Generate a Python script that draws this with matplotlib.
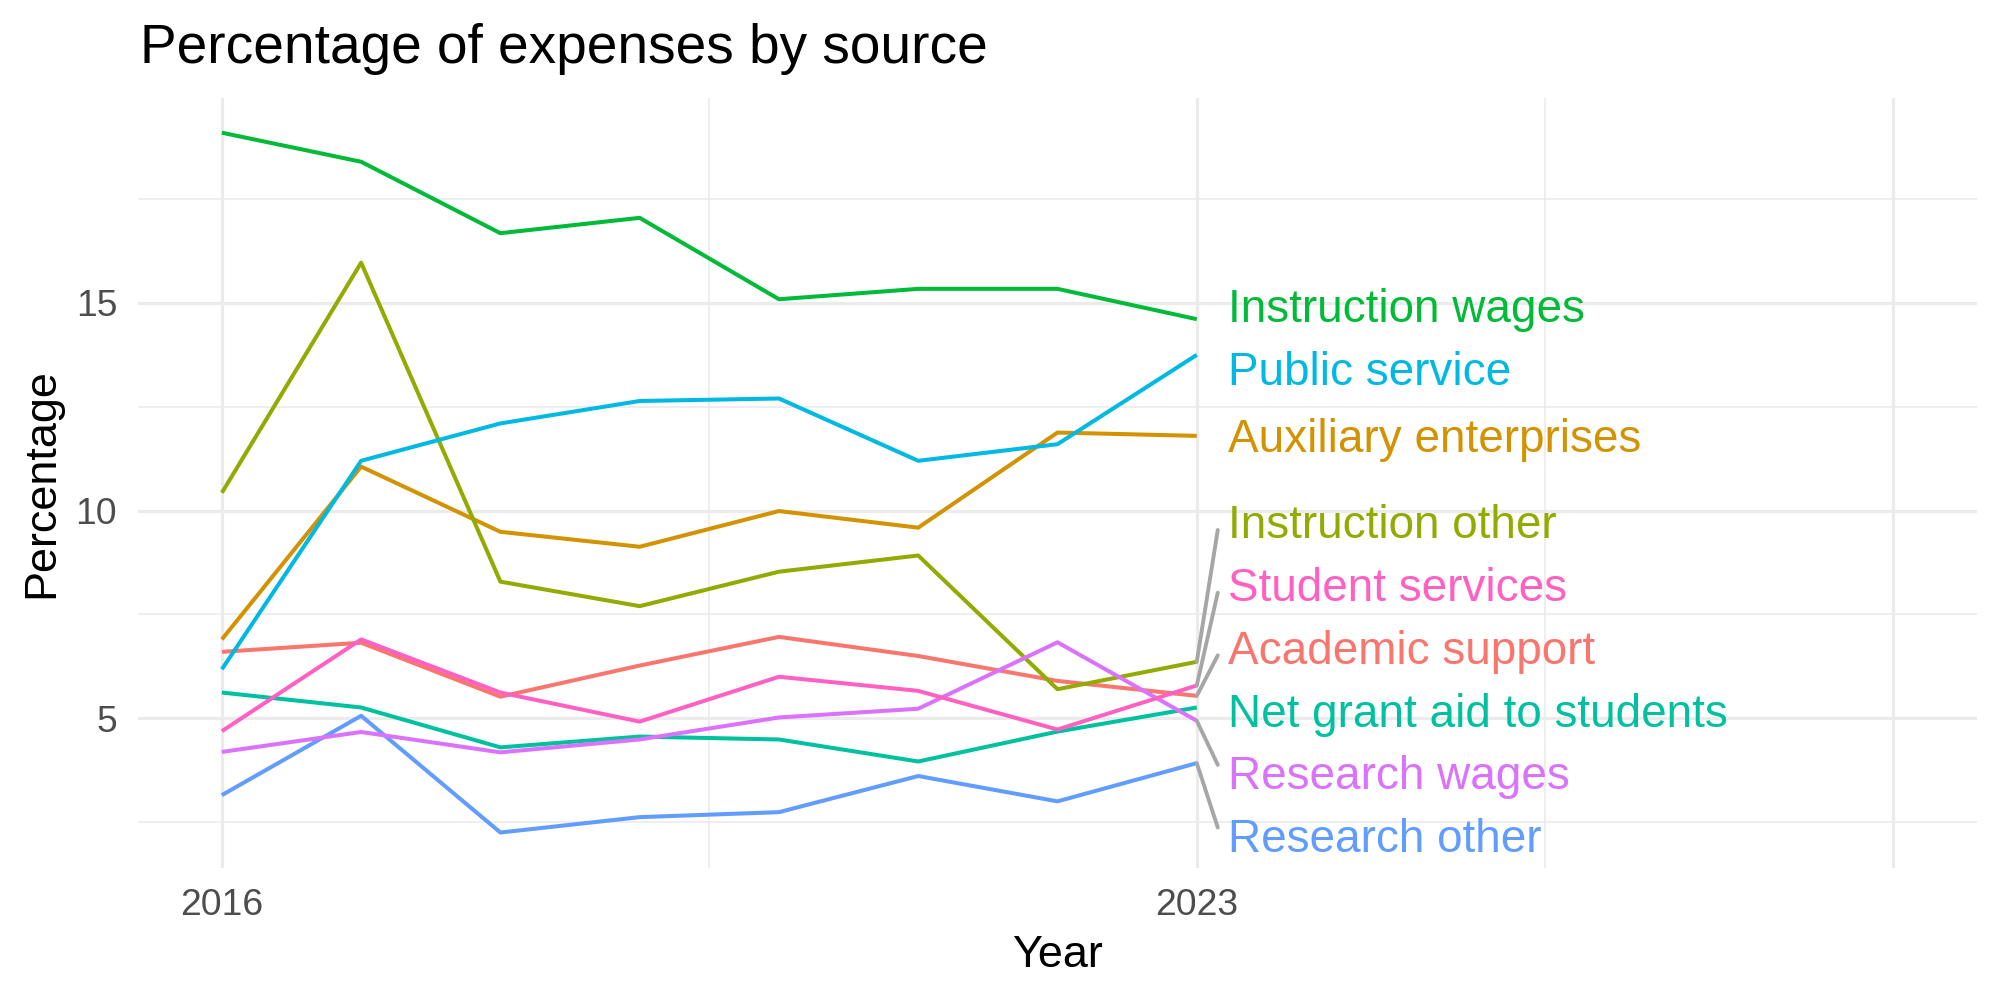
import numpy as np
import matplotlib
matplotlib.use("Agg")
import matplotlib.pyplot as plt

# ---------------- data ----------------
years = [2016, 2017, 2018, 2019, 2020, 2021, 2022, 2023]

academic_support = [6.60, 6.82, 5.52, 6.27, 6.96, 6.50, 5.90, 5.54]
auxiliary_enterprises = [6.90, 11.06, 9.49, 9.13, 9.99, 9.59, 11.88, 11.80]
instruction_other = [10.43, 15.97, 8.29, 7.70, 8.53, 8.92, 5.70, 6.36]
instruction_wages = [19.10, 18.40, 16.68, 17.05, 15.09, 15.34, 15.34, 14.61]
net_grant_aid = [5.62, 5.26, 4.30, 4.56, 4.49, 3.96, 4.68, 5.26]
public_service = [6.18, 11.20, 12.10, 12.64, 12.70, 11.20, 11.60, 13.75]
research_other = [3.15, 5.06, 2.25, 2.62, 2.74, 3.61, 3.00, 3.92]
research_wages = [4.19, 4.67, 4.18, 4.49, 5.02, 5.23, 6.83, 4.94]
student_services = [4.69, 6.90, 5.62, 4.92, 6.00, 5.66, 4.73, 5.79]

series_names = ["Academic support", "Auxiliary enterprises", "Instruction other",
                "Instruction wages", "Net grant aid to students", "Public service",
                "Research other", "Research wages", "Student services"]
series_values = [academic_support, auxiliary_enterprises, instruction_other,
                 instruction_wages, net_grant_aid, public_service,
                 research_other, research_wages, student_services]

x_tick_values = [2016, 2023, 2028]
x_tick_labels = ["2016", "2023", ""]
x_minor_values = [2019.5, 2025.5]
y_tick_values = [5, 10, 15]
y_tick_labels = ["5", "10", "15"]
y_minor_values = [2.5, 7.5, 12.5, 17.5]

# ---------------- style ----------------
colors = ["#F8766D", "#D39200", "#93AA00", "#00BA38", "#00C19F",
          "#00B9E3", "#619CFF", "#DB72FB", "#FF61C3"]
FONT = "Liberation Sans"
plt.rcParams["font.family"] = [FONT, "DejaVu Sans"]
GRID = "#EBEBEB"
DPI = 200
W, H = 2000, 1000
LABEL_FS = 16.5

fig = plt.figure(figsize=(W / DPI, H / DPI), dpi=DPI)
ax_left, ax_right = 138.3 / W, 1976.7 / W
ax_bottom, ax_top = 1 - 867.5 / H, 1 - 97.7 / H
ax = fig.add_axes([ax_left, ax_bottom, ax_right - ax_left, ax_top - ax_bottom])

# limits with ggplot-like 5% expansion
x_lo, x_hi = min(years), 2028
xr = x_hi - x_lo
ax.set_xlim(x_lo - 0.05 * xr, x_hi + 0.05 * xr)
all_vals = np.concatenate([np.asarray(v) for v in series_values])
y_lo, y_hi = all_vals.min(), all_vals.max()
yr = y_hi - y_lo
ax.set_ylim(y_lo - 0.05 * yr, y_hi + 0.05 * yr)

# grid
ax.set_xticks(x_tick_values)
ax.set_xticklabels(x_tick_labels)
ax.set_xticks(x_minor_values, minor=True)
ax.set_yticks(y_tick_values)
ax.set_yticklabels(y_tick_labels)
ax.set_yticks(y_minor_values, minor=True)
ax.grid(which="major", color=GRID, linewidth=1.15)
ax.grid(which="minor", color=GRID, linewidth=0.6)
ax.set_axisbelow(True)
for s in ax.spines.values():
    s.set_visible(False)
ax.tick_params(which="both", length=0)
ax.tick_params(axis="x", pad=7.4, labelsize=13.4, labelcolor="#4D4D4D")
ax.tick_params(axis="y", pad=7.6, labelsize=13.4, labelcolor="#4D4D4D")

# lines
for name, vals, c in zip(series_names, series_values, colors):
    ax.plot(years, vals, color=c, linewidth=1.45, solid_capstyle="butt",
            solid_joinstyle="round", zorder=3)

# ---------------- repelled labels ----------------
fig.canvas.draw()
to_px = ax.transData
px_per_unit = to_px.transform((0, 1))[1] - to_px.transform((0, 0))[1]
px_per_year = to_px.transform((1, 0))[0] - to_px.transform((0, 0))[0]

gap = 62.7 / px_per_unit          # label spacing in data units
margin = 32.0 / px_per_unit       # keep labels inside panel
ymin, ymax = ax.get_ylim()
lo, hi = ymin + margin, ymax - margin

ends = np.array([v[-1] for v in series_values])
order = list(np.argsort(ends))
groups = [[i] for i in order]


def place(g):
    n = len(g)
    c = np.mean(ends[g])
    b = c - (n - 1) * gap / 2
    b = max(b, lo)
    t = b + (n - 1) * gap
    if t > hi:
        b = hi - (n - 1) * gap
    return b, b + (n - 1) * gap


changed = True
while changed:
    changed = False
    for k in range(len(groups) - 1):
        b1, t1 = place(groups[k])
        b2, t2 = place(groups[k + 1])
        if b2 - t1 < gap - 1e-9:
            groups[k] = groups[k] + groups[k + 1]
            del groups[k + 1]
            changed = True
            break

label_y = np.zeros(len(ends))
for g in groups:
    b, _ = place(g)
    for j, i in enumerate(g):
        label_y[i] = b + j * gap

x_end = years[-1]
text_dx_pt = 31.3 * 72 / DPI
cap_half_pt = 0.716 * LABEL_FS / 2
seg_dx = 21.0 / px_per_year
seg_shift = 8.0 / px_per_unit
min_seg = 0.6

for i, (name, c) in enumerate(zip(series_names, colors)):
    ax.annotate(name, xy=(x_end, label_y[i]), xytext=(text_dx_pt, -cap_half_pt),
                textcoords="offset points", ha="left", va="baseline",
                color=c, fontsize=LABEL_FS, fontfamily=FONT, zorder=5,
                annotation_clip=False)
    d = label_y[i] - ends[i]
    if abs(d) > min_seg:
        ye = label_y[i] - np.sign(d) * seg_shift
        ax.plot([x_end, x_end + seg_dx], [ends[i], ye], color="#A6A6A6",
                linewidth=1.4, solid_capstyle="round", zorder=4, clip_on=False)

# ---------------- titles ----------------
fig.text(140.5 / W, 1 - 63.3 / H, "Percentage of expenses by source",
         fontsize=19.8, ha="left", va="baseline", color="black")
fig.text((ax_left + ax_right) / 2, 1 - 966.7 / H, "Year",
         fontsize=16.2, ha="center", va="baseline", color="black")
fig.text(42 / W, (ax_bottom + ax_top) / 2, "Percentage", rotation=90,
         fontsize=16.2, ha="center", va="center", color="black")

fig.savefig("out.png", dpi=DPI, facecolor="white")
